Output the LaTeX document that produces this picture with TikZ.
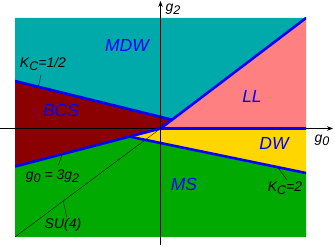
\documentclass[tikz,border=0pt]{standalone}
\usepackage{fontspec}
\setmainfont{Liberation Sans}
\usetikzlibrary{arrows.meta}
\definecolor{mdwc}{RGB}{0,170,170}
\definecolor{bcsc}{RGB}{139,0,0}
\definecolor{llc}{RGB}{255,128,128}
\definecolor{dwc}{RGB}{255,214,0}
\definecolor{msc}{RGB}{0,170,0}
\definecolor{bl}{RGB}{0,0,255}
\newcommand\subx[1]{\raisebox{-0.4ex}{\fontsize{12.5}{12.5}\selectfont #1}}
\begin{document}
\begin{tikzpicture}[x=1pt,y=-1pt,
  phase/.style={font=\fontsize{17.5}{17.5}\selectfont\itshape, text=bl, inner sep=0pt},
  lab/.style={font=\fontsize{14}{14}\selectfont\itshape, text=black, inner sep=0pt},
  bound/.style={draw=bl, line width=2.6pt, line cap=round},
  leader/.style={draw=black, line width=0.4pt},
  axis/.style={draw=black, line width=0.8pt, -{Stealth[length=6pt,width=4.5pt]}}]
\useasboundingbox (0,0) rectangle (335,246);
% corner and junction points
\coordinate (TL) at (15,18);
\coordinate (TR) at (306,18);
\coordinate (BL) at (15,237);
\coordinate (BR) at (306,237);
\coordinate (O) at (160.5,128.5);
\coordinate (Q) at (172,119.7);
\coordinate (K1) at (15,81);
\coordinate (G3) at (15,166.5);
\coordinate (P) at (129.4,136.6);
\coordinate (K2) at (306,173);
\coordinate (R0) at (306,128.5);
% regions
\fill[mdwc] (TL) -- (TR) -- (Q) -- (K1) -- cycle;
\fill[llc] (TR) -- (R0) -- (O) -- (Q) -- cycle;
\fill[bcsc] (K1) -- (Q) -- (O) -- (G3) -- cycle;
\fill[dwc] (O) -- (R0) -- (K2) -- (P) -- cycle;
\fill[msc] (G3) -- (P) -- (K2) -- (BR) -- (BL) -- cycle;
% SU(4) line
\draw[black, line width=0.35pt] (BL) -- (O);
% horizontal axis
\coordinate (XL) at (0,128.5);
\coordinate (XR) at (333,128.5);
\draw[axis] (XL) -- (XR);
% boundaries
\begin{scope}
\clip (TL) rectangle (BR);
\draw[bound] (K1) -- (Q);
\draw[bound] (TR) -- (O);
\draw[bound] (O) -- (R0);
\draw[bound] (G3) -- (O);
\draw[bound] (P) -- (K2);
\end{scope}
% vertical axis
\coordinate (YB) at (160.5,245);
\coordinate (YT) at (160.5,1);
\draw[axis] (YB) -- (YT);
% axis labels
\node[lab, anchor=west] (g2) at (165.5,9) {g\subx{2}};
\node[lab] (g0) at (322,140.5) {g\subx{0}};
% phase labels
\node[phase] (mdw) at (127,45) {MDW};
\node[phase] (bcs) at (61,110) {BCS};
\node[phase] (ll) at (252,96) {LL};
\node[phase] (dw) at (274,143.5) {DW};
\node[phase] (ms) at (184,184) {MS};
% line labels with leaders
\node[lab] (kc1) at (43,64) {K\subx{C}=1/2};
\coordinate (kc1p) at (38.5,86.5);
\coordinate (kc1q) at (41,75);
\draw[leader] (kc1p) -- (kc1q);
\node[lab] (g03) at (52.5,176) {g\subx{0} = 3g\subx{2}};
\coordinate (g03p) at (62,154.5);
\coordinate (g03q) at (58.5,165);
\draw[leader] (g03p) -- (g03q);
\node[lab] (su4) at (63,225) {SU(4)};
\coordinate (su4p) at (63.3,201);
\coordinate (su4q) at (66.7,217);
\draw[leader] (su4p) -- (su4q);
\node[lab] (kc2) at (285,188) {K\subx{C}=2};
\coordinate (kc2p) at (278,167.5);
\coordinate (kc2q) at (287,180);
\draw[leader] (kc2p) -- (kc2q);
\end{tikzpicture}
\end{document}
